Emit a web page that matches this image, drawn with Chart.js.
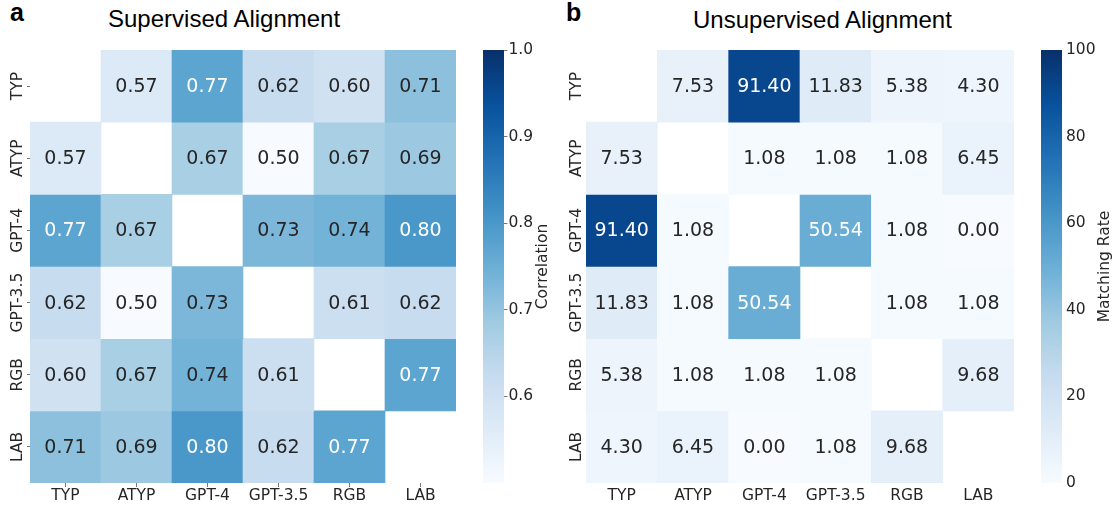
<!DOCTYPE html>
<html>
<head>
<meta charset="utf-8">
<title>Supervised / Unsupervised Alignment</title>
<script src="https://cdn.jsdelivr.net/npm/chart.js@4.4.0/dist/chart.umd.min.js"></script>
<style>
  html, body { margin: 0; padding: 0; background: #fff; }
  #page { position: relative; width: 1118px; height: 506px; overflow: hidden; }
  .box { position: absolute; top: 0; height: 506px; }
  .title { position: absolute; font-family: "Liberation Sans", Arial, sans-serif; font-size: 24px; line-height: 24px; color: #000; white-space: nowrap; }
  .letter { font-weight: bold; font-size: 25px; line-height: 25px; }
</style>
</head>
<body>
<div id="page">
  <div class="title letter" style="left:10px;top:0px">a</div>
  <div class="title" style="left:108px;top:7px">Supervised Alignment</div>
  <div class="title letter" style="left:566px;top:0px">b</div>
  <div class="title" style="left:693px;top:8px">Unsupervised Alignment</div>

  <div class="box" style="left:0px;width:470px"><canvas id="heatA"></canvas></div>
  <div class="box" style="left:470px;width:100px"><canvas id="barA"></canvas></div>
  <div class="box" style="left:556px;width:470px"><canvas id="heatB"></canvas></div>
  <div class="box" style="left:1026px;width:92px"><canvas id="barB"></canvas></div>
</div>
<script>
// categories (same for rows and columns)
const modelLabels = ['TYP', 'ATYP', 'GPT-4', 'GPT-3.5', 'RGB', 'LAB'];

// a: supervised alignment, correlation (rows in the order of modelLabels)
const supTYP   = [null, 0.57, 0.77, 0.62, 0.60, 0.71];
const supATYP  = [0.57, null, 0.67, 0.50, 0.67, 0.69];
const supGPT4  = [0.77, 0.67, null, 0.73, 0.74, 0.80];
const supGPT35 = [0.62, 0.50, 0.73, null, 0.61, 0.62];
const supRGB   = [0.60, 0.67, 0.74, 0.61, null, 0.77];
const supLAB   = [0.71, 0.69, 0.80, 0.62, 0.77, null];

// b: unsupervised alignment, matching rate
const unsTYP   = [null, 7.53, 91.40, 11.83, 5.38, 4.30];
const unsATYP  = [7.53, null, 1.08, 1.08, 1.08, 6.45];
const unsGPT4  = [91.40, 1.08, null, 50.54, 1.08, 0.00];
const unsGPT35 = [11.83, 1.08, 50.54, null, 1.08, 1.08];
const unsRGB   = [5.38, 1.08, 1.08, 1.08, null, 9.68];
const unsLAB   = [4.30, 6.45, 0.00, 1.08, 9.68, null];

// colorbar ticks
const corrTicks = [0.6, 0.7, 0.8, 0.9, 1.0];
const rateTicks = [0, 20, 40, 60, 80, 100];

const supervised = [supTYP, supATYP, supGPT4, supGPT35, supRGB, supLAB];
const unsupervised = [unsTYP, unsATYP, unsGPT4, unsGPT35, unsRGB, unsLAB];

const TEXT = '#262626';
const FONT = 'DejaVu Sans';
const BLUES = ['#f7fbff', '#deebf7', '#c6dbef', '#9ecae1', '#6baed6', '#4292c6', '#2171b5', '#08519c', '#08306b'];

function hexRgb(h) {
  return [parseInt(h.slice(1, 3), 16), parseInt(h.slice(3, 5), 16), parseInt(h.slice(5, 7), 16)];
}
const bluesRgb = BLUES.map(hexRgb);

// matplotlib "Blues", looked up through a 256 entry table like the original
function blues(t) {
  t = Math.max(0, Math.min(1, t));
  const idx = Math.min(255, Math.floor(t * 256));
  const u = (idx / 255) * (bluesRgb.length - 1);
  const i = Math.min(Math.floor(u), bluesRgb.length - 2);
  const f = u - i;
  const a = bluesRgb[i], b = bluesRgb[i + 1];
  return a.map((c, k) => c + (b[k] - c) * f);
}
const css = c => `rgb(${Math.round(c[0])},${Math.round(c[1])},${Math.round(c[2])})`;

// seaborn picks white text on dark cells
function luminance(c) {
  const lin = c.map(v => {
    v /= 255;
    return v <= 0.03928 ? v / 12.92 : Math.pow((v + 0.055) / 1.055, 2.4);
  });
  return 0.2126 * lin[0] + 0.7152 * lin[1] + 0.0722 * lin[2];
}

const cellText = {
  id: 'cellText',
  afterDatasetsDraw(chart, args, opts) {
    const c = chart.ctx;
    c.save();
    c.font = `19px "${FONT}"`;
    c.textAlign = 'center';
    c.textBaseline = 'middle';
    chart.data.datasets.forEach((ds, r) => {
      chart.getDatasetMeta(r).data.forEach((el, j) => {
        const v = ds.values[j];
        if (v === null) return;
        const col = blues((v - opts.vmin) / (opts.vmax - opts.vmin));
        c.fillStyle = luminance(col) > 0.408 ? TEXT : '#ffffff';
        c.fillText(v.toFixed(2), el.x, (el.y + el.base) / 2 + 1);
      });
    });
    c.restore();
  }
};

const rowLabels = {
  id: 'rowLabels',
  afterDraw(chart, args, opts) {
    const s = chart.scales.y;
    const c = chart.ctx;
    c.save();
    c.font = `15.5px "${FONT}"`;
    c.fillStyle = TEXT;
    c.textAlign = 'center';
    c.textBaseline = 'middle';
    s.ticks.forEach((t, i) => {
      c.save();
      c.translate(chart.chartArea.left - opts.offset, s.getPixelForTick(i));
      c.rotate(-Math.PI / 2);
      c.fillText(modelLabels[i], 0, 0);
      c.restore();
    });
    c.restore();
  }
};

const barTitle = {
  id: 'barTitle',
  afterDraw(chart, args, opts) {
    const s = chart.scales.y;
    const c = chart.ctx;
    c.save();
    c.font = `15.5px "${FONT}"`;
    const widest = Math.max(...s.ticks.map(t => c.measureText(opts.fmt(t.value)).width));
    const x = chart.chartArea.right + opts.gap + widest + opts.extra;
    const y = (chart.chartArea.top + chart.chartArea.bottom) / 2;
    c.fillStyle = TEXT;
    c.textAlign = 'center';
    c.textBaseline = 'middle';
    c.translate(x, y);
    c.rotate(-Math.PI / 2);
    c.fillText(opts.text, 0, 0);
    c.restore();
  }
};

function heatmap(id, rows, vmin, vmax, cfg) {
  const datasets = rows.map((vals, r) => ({
    data: vals.map(v => (v === null ? null : [r, r + 1])),
    values: vals,
    backgroundColor: ctx => css(blues((vals[ctx.dataIndex] - vmin) / (vmax - vmin))),
    borderWidth: 0,
    grouped: false,
    barPercentage: 1,
    categoryPercentage: 1
  }));

  return new Chart(document.getElementById(id), {
    type: 'bar',
    data: { labels: modelLabels, datasets },
    plugins: [cellText, rowLabels],
    options: {
      responsive: true,
      maintainAspectRatio: false,
      animation: false,
      layout: { padding: { top: 50, right: cfg.right, left: 0, bottom: 0 } },
      plugins: {
        legend: { display: false },
        tooltip: { enabled: false },
        cellText: { vmin, vmax },
        rowLabels: { offset: cfg.labelOffset }
      },
      scales: {
        x: {
          afterFit: s => { s.height = 23; },
          border: { display: false },
          grid: { offset: false, drawOnChartArea: false, tickLength: 4, color: cfg.tickColor, lineWidth: 0.8 },
          ticks: { font: { family: FONT, size: 15.5 }, color: TEXT, padding: 0, maxRotation: 0, autoSkip: false }
        },
        y: {
          type: 'linear',
          min: 0,
          max: rows.length,
          reverse: true,
          afterBuildTicks: s => { s.ticks = modelLabels.map((_, i) => ({ value: i + 0.5 })); },
          afterFit: s => { s.width = 30; },
          border: { display: false },
          grid: { drawOnChartArea: false, tickLength: 3, color: cfg.tickColor, lineWidth: 0.8 },
          ticks: { display: false }
        }
      }
    }
  });
}

function colorbar(id, vmin, vmax, tickVals, fmt, text, cfg) {
  return new Chart(document.getElementById(id), {
    type: 'bar',
    data: {
      labels: [''],
      datasets: [{
        data: [[vmin, vmax]],
        borderWidth: 0,
        barPercentage: 1,
        categoryPercentage: 1,
        backgroundColor: ctx => {
          const ch = ctx.chart;
          if (!ch.chartArea || !ch.scales.y) return BLUES[4];
          const y = ch.scales.y;
          const g = ch.ctx.createLinearGradient(0, y.getPixelForValue(vmin), 0, y.getPixelForValue(vmax));
          BLUES.forEach((b, i) => g.addColorStop(i / (BLUES.length - 1), b));
          return g;
        }
      }]
    },
    plugins: [barTitle],
    options: {
      responsive: true,
      maintainAspectRatio: false,
      animation: false,
      layout: { padding: { top: 50, bottom: 23, left: cfg.left, right: 0 } },
      plugins: {
        legend: { display: false },
        tooltip: { enabled: false },
        barTitle: { text, fmt, gap: cfg.tickLen + cfg.pad, extra: cfg.extra }
      },
      scales: {
        x: { display: false },
        y: {
          position: 'right',
          min: vmin,
          max: vmax,
          afterBuildTicks: s => { s.ticks = tickVals.map(v => ({ value: v })); },
          afterFit: s => { s.width = cfg.width; },
          border: { display: false },
          grid: { drawOnChartArea: false, tickLength: cfg.tickLen, color: cfg.tickColor, lineWidth: 0.8 },
          ticks: { font: { family: FONT, size: 15.5 }, color: TEXT, padding: cfg.pad, callback: v => fmt(v) }
        }
      }
    }
  });
}

heatmap('heatA', supervised, 0.5, 1.0, { right: 14, labelOffset: 11.7, tickColor: '#555' });
colorbar('barA', 0.5, 1.0, corrTicks, v => v.toFixed(1), 'Correlation',
  { left: 13, width: 66, tickLen: 3.5, pad: 1, extra: 10, tickColor: '#555' });

heatmap('heatB', unsupervised, 0, 100, { right: 12, labelOffset: 9.5, tickColor: 'rgba(0,0,0,0)' });
colorbar('barB', 0, 100, rateTicks, v => String(Math.round(v)), 'Matching Rate',
  { left: 15, width: 56, tickLen: 3, pad: 1, extra: 9, tickColor: 'rgba(0,0,0,0)' });
</script>
</body>
</html>
